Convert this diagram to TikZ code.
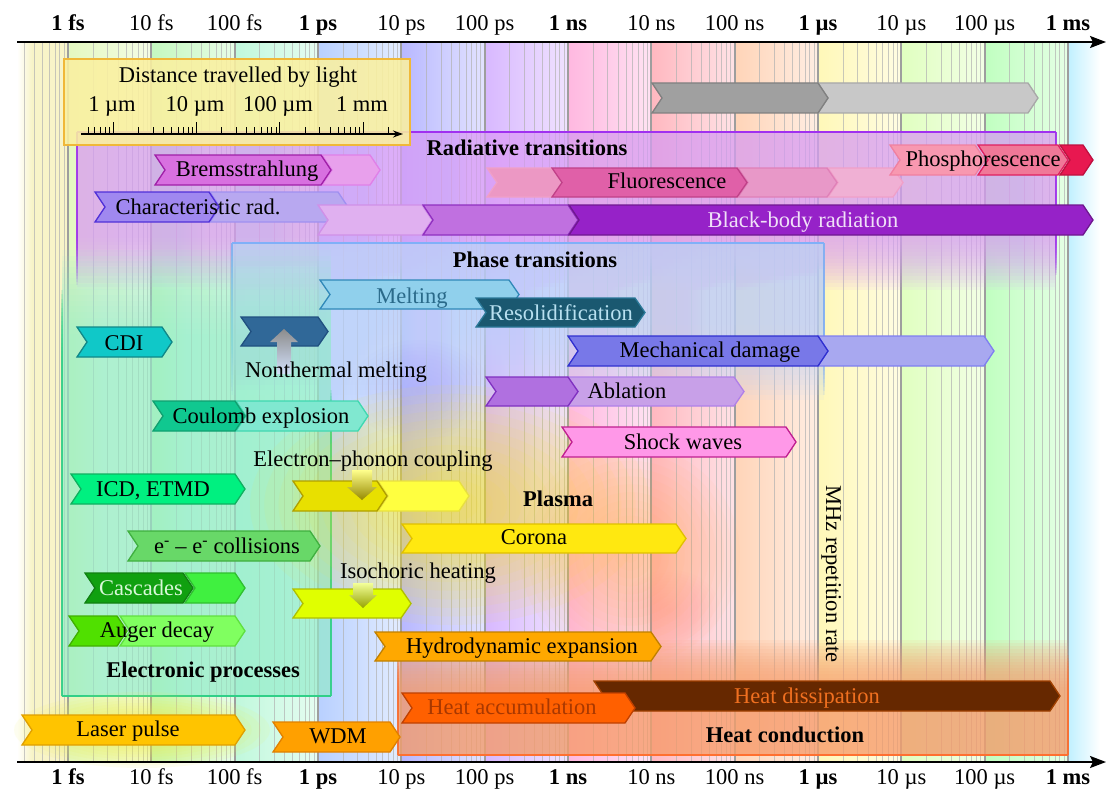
\documentclass[tikz,border=0pt]{standalone}
\usepackage{fontspec}
\setmainfont{Liberation Serif}
\usetikzlibrary{arrows.meta}
% decade bands
\definecolor{b0}{HTML}{F8F4C8}\definecolor{b1}{HTML}{E4F8C0}\definecolor{b2}{HTML}{C4F8C0}
\definecolor{b3}{HTML}{C0F8DC}\definecolor{b4}{HTML}{B8D0FF}\definecolor{b5}{HTML}{B8B8FF}
\definecolor{b6}{HTML}{D8B8FF}\definecolor{b7}{HTML}{FFB8E0}\definecolor{b8}{HTML}{FFB8C0}
\definecolor{b9}{HTML}{FFD4B8}\definecolor{b10}{HTML}{FFF8B8}\definecolor{b11}{HTML}{E0FFC0}
\definecolor{b12}{HTML}{C0FFC0}\definecolor{b13}{HTML}{C0F0FF}
% regions
\definecolor{radf}{HTML}{DCA0F8}\definecolor{radb}{HTML}{A030F0}
\definecolor{phf}{HTML}{C0D4FA}\definecolor{phb}{HTML}{80B0F8}
\definecolor{elf}{HTML}{98F0D0}\definecolor{elb}{HTML}{30D088}
\definecolor{htf}{HTML}{F8A070}\definecolor{htb}{HTML}{FF7030}
\definecolor{boxf}{HTML}{FAF0A0}\definecolor{boxb}{HTML}{F0B838}
% glows
\definecolor{lg}{HTML}{F0F040}\definecolor{pg}{HTML}{FFE818}\definecolor{og}{HTML}{FFB050}
\definecolor{lvg}{HTML}{A0A0FF}\definecolor{pkg}{HTML}{FF9090}
% chevrons
\definecolor{gyAf}{HTML}{A0A0A0}\definecolor{gyAd}{HTML}{808080}
\definecolor{gyBf}{HTML}{C8C8C8}\definecolor{gyBd}{HTML}{A8A8A8}
\definecolor{brAf}{HTML}{D870E0}\definecolor{brAd}{HTML}{A020A8}
\definecolor{brBf}{HTML}{E8A0EC}\definecolor{brBd}{HTML}{E080E8}
\definecolor{chAf}{HTML}{A088F0}\definecolor{chAd}{HTML}{5030D8}
\definecolor{chBf}{HTML}{B8A8F0}\definecolor{chBd}{HTML}{A090F0}
\definecolor{flAf}{HTML}{E060A8}\definecolor{flAd}{HTML}{C04088}
\definecolor{flBf}{HTML}{E898C8}\definecolor{flBd}{HTML}{E080B8}
\definecolor{flCf}{HTML}{EC98C4}\definecolor{flCd}{HTML}{F0A0C8}
\definecolor{flDf}{HTML}{F0B0D4}\definecolor{flDd}{HTML}{F0A0C8}
\definecolor{phAf}{HTML}{F898B0}\definecolor{phAd}{HTML}{F080A0}
\definecolor{phBf}{HTML}{F07898}\definecolor{phBd}{HTML}{E02060}
\definecolor{phCf}{HTML}{E81850}\definecolor{phCd}{HTML}{C01040}
\definecolor{bbAf}{HTML}{E0B0F0}\definecolor{bbAd}{HTML}{D090E8}
\definecolor{bbBf}{HTML}{C070E0}\definecolor{bbBd}{HTML}{9030C0}
\definecolor{bbCf}{HTML}{9622C8}\definecolor{bbCd}{HTML}{701890}
\definecolor{bbt}{HTML}{F0E0F8}
\definecolor{mlf}{HTML}{90D0EC}\definecolor{mld}{HTML}{3088B8}\definecolor{mlt}{HTML}{2A6A8A}
\definecolor{rsf}{HTML}{1A5870}\definecolor{rsd}{HTML}{2A7898}\definecolor{rst}{HTML}{B8E0F0}
\definecolor{ntf}{HTML}{306898}\definecolor{ntd}{HTML}{205080}
\definecolor{cdf}{HTML}{10C8C8}\definecolor{cdd}{HTML}{108888}
\definecolor{mdAf}{HTML}{7878E8}\definecolor{mdAd}{HTML}{3030D0}
\definecolor{mdBf}{HTML}{A8A8F0}\definecolor{mdBd}{HTML}{8080F0}
\definecolor{abAf}{HTML}{B070E0}\definecolor{abAd}{HTML}{8030C0}
\definecolor{abBf}{HTML}{C8A0E8}\definecolor{abBd}{HTML}{B080E8}
\definecolor{coAf}{HTML}{10C890}\definecolor{coAd}{HTML}{10A070}
\definecolor{coBf}{HTML}{80E8D0}\definecolor{coBd}{HTML}{40D8B0}
\definecolor{swf}{HTML}{FF98E8}\definecolor{swd}{HTML}{C02090}
\definecolor{epAf}{HTML}{E8E000}\definecolor{epAd}{HTML}{B0A000}
\definecolor{epBf}{HTML}{FFFF40}\definecolor{epBd}{HTML}{E8E040}
\definecolor{icf}{HTML}{00F080}\definecolor{icd}{HTML}{10B060}
\definecolor{crf}{HTML}{FFE810}\definecolor{crd}{HTML}{E0C000}
\definecolor{eef}{HTML}{68D868}\definecolor{eed}{HTML}{40B040}
\definecolor{ihf}{HTML}{E0FF00}\definecolor{ihd}{HTML}{B0C000}
\definecolor{caAf}{HTML}{10A010}\definecolor{caAd}{HTML}{108010}
\definecolor{caBf}{HTML}{40F040}\definecolor{caBd}{HTML}{30C030}
\definecolor{cat}{HTML}{D8F8D8}
\definecolor{auAf}{HTML}{50E000}\definecolor{auAd}{HTML}{40B000}
\definecolor{auBf}{HTML}{80FF60}\definecolor{auBd}{HTML}{60E040}
\definecolor{hyf}{HTML}{FFA800}\definecolor{hyd}{HTML}{C08000}
\definecolor{hdf}{HTML}{662800}\definecolor{hdd}{HTML}{A04000}\definecolor{hdt}{HTML}{F07020}
\definecolor{haf}{HTML}{FF6000}\definecolor{had}{HTML}{C04000}\definecolor{hat}{HTML}{A83800}
\definecolor{lpf}{HTML}{FFC400}\definecolor{lpd}{HTML}{E0A000}
\definecolor{wdf}{HTML}{FFA000}\definecolor{wdd}{HTML}{E08000}

% chevron: [style]{x left}{x point}{y top}{y bottom}
\newcommand\chv[5][]{\draw[chev,#1] (#2,#4) -- ({#3-10},#4) -- (#3,{(#4+#5)/2}) -- ({#3-10},#5) -- (#2,#5) -- ({#2+10},{(#4+#5)/2}) -- cycle;}
% faded region: color, opacity, x0, x1, y solid end, y fade start, y fade end
\newcommand\regfade[7]{\pgfmathsetmacro\stepop{1-pow(1-#2,1/16)}%
  \foreach \i in {1,...,16}{\fill[#1, fill opacity=\stepop] (#3,#5) rectangle (#4,{#6+(#7-#6)*\i/16});}}
\newcommand\fadeline[6]{\pgfmathsetmacro\stepop{1-pow(1-#2,1/16)}%
  \foreach \i in {1,...,16}{\draw[#1, draw opacity=\stepop, line width=1.5pt] (#3,#4) -- (#3,{#5+(#6-#5)*\i/16});}}
\newcommand\glow[6]{\pgfmathsetmacro\stepop{1-pow(1-#2,1/14)}%
  \foreach \i in {1,...,14}{\pgfmathsetmacro\rx{#5*\i/14}\pgfmathsetmacro\ry{#6*\i/14}%
    \fill[#1, fill opacity=\stepop] (#3,#4) ellipse [x radius=\rx pt, y radius=\ry pt];}}

\begin{document}
\begin{tikzpicture}[x=1pt,y=-1pt,
  chev/.style={line width=1.3pt, line join=miter},
  lbl/.style={font=\fontsize{22.5}{26}\selectfont, inner sep=0pt, anchor=base},
  blbl/.style={lbl, font=\fontsize{22.5}{26}\selectfont\bfseries},
  minorg/.style={draw=black!30, line width=0.9pt, draw opacity=0.7},
  majorg/.style={draw=black!38, line width=2.2pt},
]
\useasboundingbox (0,0) rectangle (1107,789);
\fill[white] (0,0) rectangle (1107,789);

% ---- decade bands
\shade[left color=white, right color=b0] (17,43) rectangle (32,761);
\fill[b0] (31.5,43) rectangle (68,761);
\foreach \n/\c in {1/b1,2/b2,3/b3,4/b4,5/b5,6/b6,7/b7,8/b8,9/b9,10/b10,11/b11,12/b12}{
  \shade[left color=\c, right color=\c!40!white] ({68+83.333*(\n-1)},43) rectangle ({68+83.333*\n+0.5},761);}
\shade[left color=b13, right color=white] (1068,43) rectangle (1100,761);

% ---- grid
\foreach \n in {-1,...,11}{\foreach \k in {2,...,9}{%
  \pgfmathsetmacro\xx{68+83.333*(\n+ln(\k)/ln(10))}%
  \ifdim\xx pt>20pt\relax\draw[minorg] (\xx,43) -- (\xx,761);\fi}}
\foreach \n in {0,...,12}{\draw[majorg] ({68+83.333*\n},43) -- ({68+83.333*\n},761);}

% ---- regions
\regfade{radf}{0.75}{77}{1056}{132}{235}{290}
\draw[radb, line width=1.5pt] (77,132) -- (1056,132);
\fadeline{radb}{0.9}{77}{132}{235}{285}
\fadeline{radb}{0.9}{1056}{132}{235}{275}

\regfade{phf}{0.8}{232}{824}{243}{320}{400}
\draw[phb, line width=1.5pt] (232,243) -- (824,243);
\fadeline{phb}{0.9}{232}{243}{330}{395}
\fadeline{phb}{0.9}{824}{243}{330}{395}

\regfade{elf}{0.7}{62}{331}{696}{340}{250}
\draw[elb, line width=1.5pt] (62,696) -- (331,696);
\fadeline{elb}{0.9}{62}{696}{360}{290}
\fadeline{elb}{0.9}{331}{696}{440}{390}

\regfade{htf}{0.8}{398}{1068}{755}{690}{640}
\draw[htb, line width=1.5pt] (398,755) -- (1068,755);
\fadeline{htb}{0.9}{398}{755}{700}{655}
\fadeline{htb}{0.9}{1068}{755}{700}{655}

% ---- glows
\glow{lvg}{0.35}{420}{390}{70}{50}
\glow{pg}{0.6}{450}{505}{200}{120}
\glow{og}{0.45}{630}{555}{110}{110}
\glow{pkg}{0.3}{670}{610}{50}{40}
\glow{lg}{0.7}{142}{730}{128}{38}

% ---- distance box
\draw[fill=boxf, fill opacity=0.88, draw=boxb, line width=2.5pt] (64,59) rectangle (410,145);
\coordinate (r0) at (81,134); \coordinate (r1) at (403,134);
\draw[line width=1.3pt, -{Stealth[length=10pt,width=7pt]}] (r0) -- (r1);
\foreach \m in {0,...,3}{\draw[line width=1pt] ({113.3+83.33*\m},122) -- ({113.3+83.33*\m},134);}
\foreach \m in {-1,...,3}{\foreach \k in {2,...,9}{%
  \pgfmathsetmacro\xx{113.3+83.33*(\m+ln(\k)/ln(10))}%
  \ifdim\xx pt>84pt\relax\ifdim\xx pt<395pt\relax\draw[line width=0.8pt] (\xx,127) -- (\xx,134);\fi\fi}}
\node[lbl] (dist) at (238,83) {Distance travelled by light};
\node[lbl] (d1) at (112,112) {1 µm};
\node[lbl] (d2) at (195,112) {10 µm};
\node[lbl] (d3) at (278,112) {100 µm};
\node[lbl] (d4) at (362,112) {1 mm};

% ---- chevrons
\chv[fill=gyBf, draw=gyBd]{818}{1038}{83}{113}
\chv[fill=gyAf, draw=gyAd]{652}{828}{83}{113}

\chv[fill=brBf, draw=brBd]{322}{380}{155}{185}
\chv[fill=brAf, draw=brAd]{155}{331}{155}{185}
\chv[fill=chBf, draw=chBd]{210}{348}{192}{222}
\chv[fill=chAf, draw=chAd]{95}{219}{192}{222}

\chv[fill=flDf, draw=flDd]{828}{903}{168}{197}
\chv[fill=flBf, draw=flBd]{738}{837}{168}{197}
\chv[fill=flCf, draw=flCd]{487}{562}{168}{197}
\chv[fill=flAf, draw=flAd]{552}{747}{168}{197}

\chv[fill=phAf, draw=phAd]{890}{985}{145}{175}
\chv[fill=phCf, draw=phCd]{1060}{1093}{145}{175}
\chv[fill=phBf, draw=phBd]{978}{1068}{145}{175}

\chv[fill=bbAf, draw=bbAd]{318}{432}{205}{235}
\chv[fill=bbBf, draw=bbBd]{423}{578}{205}{235}
\chv[fill=bbCf, draw=bbCd]{569}{1093}{205}{235}

\chv[fill=mlf, draw=mld]{320}{519}{280}{309}
\chv[fill=rsf, draw=rsd]{476}{645}{298}{327}
\chv[fill=ntf, draw=ntd]{241}{328}{317}{346}
\chv[fill=cdf, draw=cdd]{77}{172}{327}{357}
\chv[fill=mdBf, draw=mdBd]{818}{994}{336}{366}
\chv[fill=mdAf, draw=mdAd]{568}{828}{336}{366}
\chv[fill=abBf, draw=abBd]{568}{744}{377}{406}
\chv[fill=abAf, draw=abAd]{486}{578}{377}{406}
\chv[fill=coBf, draw=coBd]{236}{368}{401}{431}
\chv[fill=coAf, draw=coAd]{153}{245}{401}{431}
\chv[fill=swf, draw=swd]{562}{796}{427}{457}
\chv[fill=epBf, draw=epBd]{378}{469}{481}{511}
\chv[fill=epAf, draw=epAd]{293}{387}{481}{511}
\chv[fill=icf, draw=icd]{71}{245}{474}{504}
\chv[fill=crf, draw=crd]{402}{686}{524}{553}
\chv[fill=eef, draw=eed]{128}{320}{531}{561}
\chv[fill=ihf, draw=ihd]{293}{411}{589}{618}
\chv[fill=caBf, draw=caBd]{185}{245}{573}{603}
\chv[fill=caAf, draw=caAd]{85}{193}{573}{603}
\chv[fill=auBf, draw=auBd]{120}{245}{616}{646}
\chv[fill=auAf, draw=auAd]{69}{127}{616}{646}
\chv[fill=hyf, draw=hyd]{375}{661}{632}{661}
\chv[fill=hdf, draw=hdd]{594}{1060}{681}{711}
\chv[fill=haf, draw=had]{402}{635}{693}{723}
\chv[fill=lpf, draw=lpd]{22}{245}{715}{745}
\chv[fill=wdf, draw=wdd]{273}{400}{722}{752}

% ---- process arrows
\shade[top color=black!45, bottom color=phf!70!white] (284,329) -- (298,342) -- (291,342) -- (291,374) -- (277,374) -- (277,342) -- (270,342) -- cycle;
\shade[top color=epBf!60!white, bottom color=epAd!85!black] (352,470) -- (372,470) -- (372,487) -- (377,487) -- (362,500) -- (347,487) -- (352,487) -- cycle;
\shade[top color=ihf!40!white, bottom color=ihd!85!black] (353,583) -- (373,583) -- (373,595) -- (377,595) -- (363,608) -- (349,595) -- (353,595) -- cycle;

% ---- labels
\node[blbl] (rad) at (527,155) {Radiative transitions};
\node[lbl] (brems) at (247,176) {Bremsstrahlung};
\node[lbl] (char) at (198,214) {Characteristic rad.};
\node[lbl] (fluo) at (667,188) {Fluorescence};
\node[lbl] (phos) at (983,166) {Phosphorescence};
\node[lbl, text=bbt] (bb) at (803,227) {Black-body radiation};
\node[blbl] (phase) at (535,267) {Phase transitions};
\node[lbl, text=mlt] (melt) at (412,303) {Melting};
\node[lbl, text=rst] (resol) at (561,320) {Resolidification};
\node[lbl] (cdi) at (124,350) {CDI};
\node[lbl] (ntm) at (336,377) {Nonthermal melting};
\node[lbl] (mech) at (710,357) {Mechanical damage};
\node[lbl] (abl) at (627,398) {Ablation};
\node[lbl] (coul) at (261,423) {Coulomb explosion};
\node[lbl] (shock) at (683,449) {Shock waves};
\node[lbl] (eph) at (373,466) {Electron–phonon coupling};
\node[lbl] (icd) at (153,496) {ICD, ETMD};
\node[blbl] (plasma) at (558,506) {Plasma};
\node[lbl] (corona) at (534,544) {Corona};
\node[lbl] (ee) at (227,553) {e\textsuperscript{-} – e\textsuperscript{-} collisions};
\node[lbl] (iso) at (418,578) {Isochoric heating};
\node[lbl, text=cat] (casc) at (141,595) {Cascades};
\node[lbl] (auger) at (157,637) {Auger decay};
\node[lbl] (hydro) at (522,653) {Hydrodynamic expansion};
\node[blbl] (elec) at (203,677) {Electronic processes};
\node[lbl, text=hdt] (hdiss) at (807,703) {Heat dissipation};
\node[lbl, text=hat] (hacc) at (512,714) {Heat accumulation};
\node[lbl] (laser) at (128,736) {Laser pulse};
\node[lbl] (wdm) at (338,743) {WDM};
\node[blbl] (hcond) at (785,742) {Heat conduction};
\node[lbl, rotate=-90] (mhz) at (826,574) {MHz repetition rate};

% ---- axes
\coordinate (tl) at (17,42); \coordinate (tr) at (1106,42);
\coordinate (bl) at (17,762); \coordinate (br) at (1106,762);
\draw[line width=2pt, -{Stealth[length=16pt,width=12pt,inset=3pt]}] (tl) -- (tr);
\draw[line width=2pt, -{Stealth[length=16pt,width=12pt,inset=3pt]}] (bl) -- (br);
\foreach \t/\s [count=\i from 0] in {1 fs/blbl,10 fs/lbl,100 fs/lbl,1 ps/blbl,10 ps/lbl,100 ps/lbl,1 ns/blbl,10 ns/lbl,100 ns/lbl,1 µs/blbl,10 µs/lbl,100 µs/lbl,1 ms/blbl}{
  \node[\s] (top\i) at ({68+83.333*\i},31) {\t};
  \node[\s] (bot\i) at ({68+83.333*\i},784) {\t};}
\end{tikzpicture}
\end{document}
